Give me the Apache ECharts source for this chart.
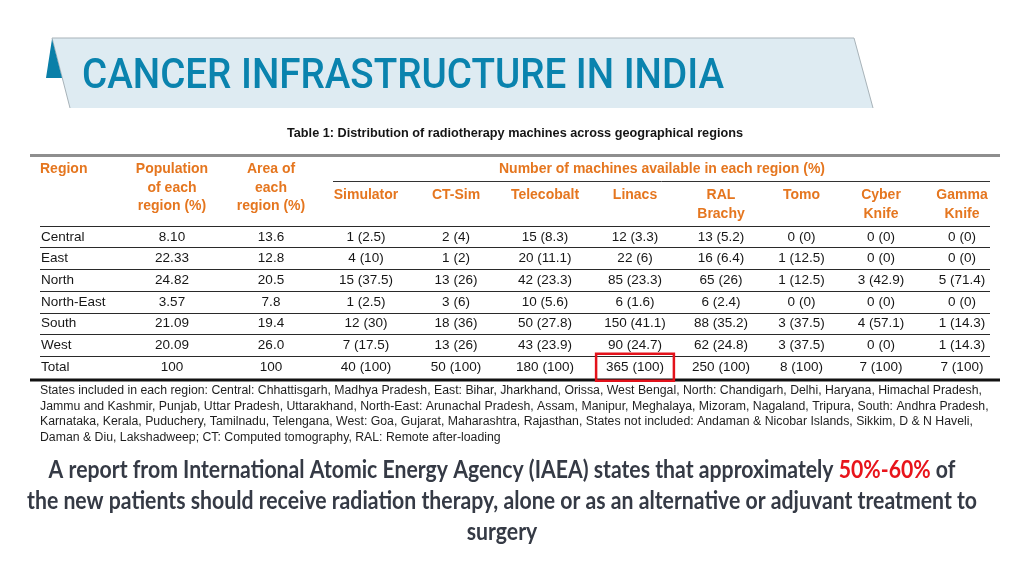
<!DOCTYPE html>
<html><head><meta charset="utf-8">
<script src="https://cdn.jsdelivr.net/npm/echarts@6/dist/echarts.min.js"></script>
<style>html,body{margin:0;padding:0;background:#fff}#c{width:1024px;height:576px}</style>
</head><body><div id="c"></div>
<script>
// ---------- data ----------
const pageTitle = 'CANCER INFRASTRUCTURE IN INDIA';
const tableCaption = 'Table 1: Distribution of radiotherapy machines across geographical regions';
const groupHeader = 'Number of machines available in each region (%)';
const regionHeader = 'Region';
const regions = ['Central', 'East', 'North', 'North-East', 'South', 'West', 'Total'];
const columnHeaders = ['Population\nof each\nregion (%)', 'Area of\neach\nregion (%)', 'Simulator', 'CT-Sim',
  'Telecobalt', 'Linacs', 'RAL\nBrachy', 'Tomo', 'Cyber\nKnife', 'Gamma\nKnife'];
const populationShare = ['8.10', '22.33', '24.82', '3.57', '21.09', '20.09', '100'];
const areaShare = ['13.6', '12.8', '20.5', '7.8', '19.4', '26.0', '100'];
const simulatorCount = [1, 4, 15, 1, 12, 7, 40];
const simulatorPct = [2.5, 10, 37.5, 2.5, 30, 17.5, 100];
const ctSimCount = [2, 1, 13, 3, 18, 13, 50];
const ctSimPct = [4, 2, 26, 6, 36, 26, 100];
const telecobaltCount = [15, 20, 42, 10, 50, 43, 180];
const telecobaltPct = [8.3, 11.1, 23.3, 5.6, 27.8, 23.9, 100];
const linacsCount = [12, 22, 85, 6, 150, 90, 365];
const linacsPct = [3.3, 6, 23.3, 1.6, 41.1, 24.7, 100];
const ralCount = [13, 16, 65, 6, 88, 62, 250];
const ralPct = [5.2, 6.4, 26, 2.4, 35.2, 24.8, 100];
const tomoCount = [0, 1, 1, 0, 3, 3, 8];
const tomoPct = [0, 12.5, 12.5, 0, 37.5, 37.5, 100];
const cyberCount = [0, 0, 3, 0, 4, 0, 7];
const cyberPct = [0, 0, 42.9, 0, 57.1, 0, 100];
const gammaCount = [0, 0, 5, 0, 1, 1, 7];
const gammaPct = [0, 0, 71.4, 0, 14.3, 14.3, 100];
const highlightColumn = 'Linacs';
const highlightRegion = 'Total';
const footnoteLines = [
  'States included in each region: Central: Chhattisgarh, Madhya Pradesh, East: Bihar, Jharkhand, Orissa, West Bengal, North: Chandigarh, Delhi, Haryana, Himachal Pradesh,',
  'Jammu and Kashmir, Punjab, Uttar Pradesh, Uttarakhand, North-East: Arunachal Pradesh, Assam, Manipur, Meghalaya, Mizoram, Nagaland, Tripura, South: Andhra Pradesh,',
  'Karnataka, Kerala, Puduchery, Tamilnadu, Telengana, West: Goa, Gujarat, Maharashtra, Rajasthan, States not included: Andaman & Nicobar Islands, Sikkim, D & N Haveli,',
  'Daman & Diu, Lakshadweep; CT: Computed tomography, RAL: Remote after-loading'
];
const reportBefore = 'A report from International Atomic Energy Agency (IAEA) states that approximately ';
const reportHighlight = '50%-60%';
const reportAfter = ' of';
const reportLine2 = 'the new patients should receive radiation therapy, alone or as an alternative or adjuvant treatment to';
const reportLine3 = 'surgery';

// ---------- layout / style ----------
const colEdges = [122, 222, 320, 412, 500, 590, 680, 762, 841, 921, 1003];
const tableTop = 226, tableHeight = 152;
const ORANGE = '#e5761f', TEXT = '#161616', BLUE = '#0a83ae';
const TFONT = '"Liberation Sans", Arial, sans-serif';

function cellText(c, p) { return c.map((n, i) => n + ' (' + p[i] + ')'); }
const columnValues = [populationShare, areaShare,
  cellText(simulatorCount, simulatorPct), cellText(ctSimCount, ctSimPct),
  cellText(telecobaltCount, telecobaltPct), cellText(linacsCount, linacsPct),
  cellText(ralCount, ralPct), cellText(tomoCount, tomoPct),
  cellText(cyberCount, cyberPct), cellText(gammaCount, gammaPct)];

const ctx = document.createElement('canvas').getContext('2d');
function measure(text, font) { ctx.font = font; return ctx.measureText(text).width; }

const grids = [{ left: 40, top: tableTop, width: 950, height: tableHeight }];
const xAxes = [{ gridIndex: 0, type: 'value', show: false }];
const yAxes = [{
  gridIndex: 0, type: 'category', data: regions, inverse: true,
  axisLine: { show: false }, axisTick: { show: false },
  axisLabel: { inside: true, margin: 1, interval: 0, color: TEXT, fontSize: 13.5, fontFamily: TFONT },
  splitLine: { show: true, interval: 0, showMaxLine: false, lineStyle: { color: '#2a2a2a', width: 1 } },
  name: regionHeader, nameLocation: 'start', nameGap: 57,
  nameTextStyle: { align: 'left', verticalAlign: 'middle', color: ORANGE, fontWeight: 'bold', fontSize: 14, fontFamily: TFONT }
}];
const series = [];
columnHeaders.forEach((h, j) => {
  const gi = j + 1;
  grids.push({ left: colEdges[j], width: colEdges[j + 1] - colEdges[j], top: tableTop, height: tableHeight });
  xAxes.push({
    gridIndex: gi, type: 'category', data: [h], position: 'top',
    axisLine: { show: false }, axisTick: { show: false }, splitLine: { show: false },
    axisLabel: { interval: 0, verticalAlign: 'top', margin: j < 2 ? 66 : 40, color: ORANGE,
      fontWeight: 'bold', fontSize: 14, lineHeight: 18.5, fontFamily: TFONT }
  });
  yAxes.push({ gridIndex: gi, type: 'category', data: regions, inverse: true, show: false });
  const isHiCol = h === highlightColumn;
  series.push({
    type: 'scatter', xAxisIndex: gi, yAxisIndex: gi, symbolSize: 1, silent: true,
    itemStyle: { color: 'rgba(0,0,0,0)', opacity: 1 },
    label: { show: true, position: 'inside', color: TEXT, textBorderWidth: 0, fontSize: 13.5, fontFamily: TFONT,
      formatter: p => columnValues[j][p.dataIndex] },
    data: columnValues[j].map((v, k) => {
      const item = { value: [0, k] };
      if (isHiCol && regions[k] === highlightRegion) {
        item.label = { borderColor: '#e3121b', borderWidth: 2.5, padding: [7, 10, 6, 10] };
      }
      return item;
    })
  });
});

// text fitting
const titleFont = '500 42px Roboto';
const titleScale = 642 / measure(pageTitle, titleFont);
const footFont = '12.5px "Liberation Sans"';
const footScale = 942 / measure(footnoteLines[0], footFont);
const capFont = 'bold 12px "Liberation Sans"';
const capScale = 456 / measure(tableCaption, capFont);
const repFont = 'bold 24px Lato';
const repScale = 950 / measure(reportLine2, repFont);

const graphic = [
  { type: 'polygon', shape: { points: [[52, 38], [854, 38], [873, 108], [70, 108]] },
    style: { fill: '#deebf2' }, silent: true },
  { type: 'polyline', shape: { points: [[70, 108], [52, 38], [854, 38], [873, 108]] },
    style: { stroke: '#a8b3b9', lineWidth: 1, fill: null }, silent: true },
  { type: 'polygon', shape: { points: [[52, 39], [46, 78], [62, 78]] },
    style: { fill: '#0a7fa8' }, silent: true },
  { type: 'text', x: 82, y: 77, scaleX: titleScale, silent: true,
    style: { text: pageTitle, font: titleFont, fill: BLUE, align: 'left', verticalAlign: 'middle' } },
  { type: 'text', x: 515, y: 134, scaleX: capScale, silent: true,
    style: { text: tableCaption, font: capFont, fill: '#151515', align: 'center', verticalAlign: 'middle' } },
  { type: 'line', shape: { x1: 30, y1: 155.5, x2: 1000, y2: 155.5 },
    style: { stroke: '#8e8e8e', lineWidth: 3 }, silent: true },
  { type: 'text', x: 662, y: 169, silent: true,
    style: { text: groupHeader, font: 'bold 14px "Liberation Sans"', fill: ORANGE, align: 'center', verticalAlign: 'middle' } },
  { type: 'line', shape: { x1: 333, y1: 181.5, x2: 990, y2: 181.5 },
    style: { stroke: '#333', lineWidth: 1 }, silent: true },
  { type: 'line', shape: { x1: 30, y1: 380, x2: 1000, y2: 380 },
    style: { stroke: '#111', lineWidth: 3 }, silent: true },
  { type: 'text', x: 40, y: 383, scaleX: footScale, silent: true,
    style: { text: footnoteLines.join('\n'), font: footFont, lineHeight: 15.5, fill: '#1e1e1e', align: 'left', verticalAlign: 'top' } },
  { type: 'text', x: 502, y: 455, scaleX: repScale, silent: true,
    style: {
      text: reportBefore + '{r|' + reportHighlight + '}' + reportAfter + '\n' + reportLine2 + '\n' + reportLine3,
      font: repFont, fill: '#353a45', lineHeight: 31, align: 'center', verticalAlign: 'top',
      rich: { r: { fill: '#e8141b', font: repFont, lineHeight: 31 } }
    } }
];

const chart = echarts.init(document.getElementById('c'), null, { renderer: 'canvas' });
chart.setOption({
  animation: false,
  backgroundColor: '#ffffff',
  grid: grids, xAxis: xAxes, yAxis: yAxes, series: series,
  graphic: graphic
});
</script></body></html>
